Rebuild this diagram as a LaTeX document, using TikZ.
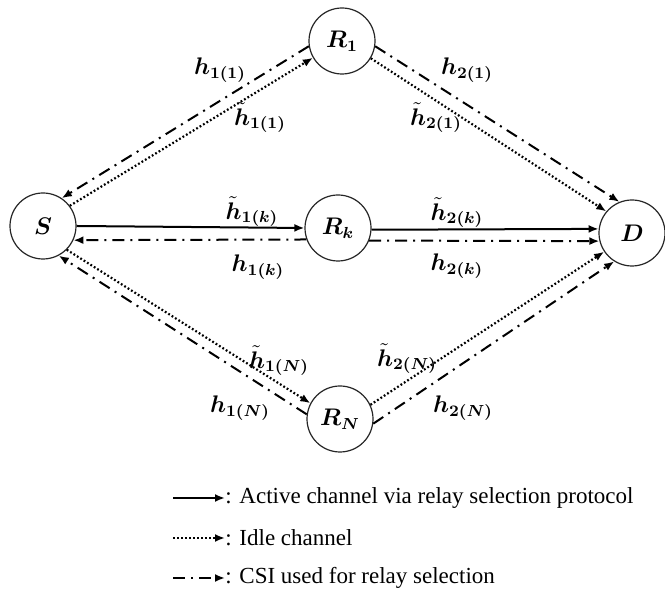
\documentclass[tikz,border=0pt]{standalone}
\usepackage{fontspec}
\setmainfont{Liberation Serif}
\usepackage{amsmath,bm}
\usetikzlibrary{arrows.meta}

\begin{document}
\begin{tikzpicture}[
    x=0.5pt, y=-0.5pt,
    relay/.style={
        circle, draw=black!85, line width=0.6pt,
        minimum size=33pt, inner sep=0pt, font=\large
    },
    lbl/.style={font=\large, inner sep=1pt},
    active/.style={-{Latex[length=5pt,width=4pt]}, line width=1pt},
    idle/.style={-{Latex[length=5pt,width=4pt]}, line width=1.1pt,
        dash pattern=on 0.9pt off 1.1pt},
    csi/.style={-{Latex[length=5pt,width=4pt]}, line width=1pt,
        dash pattern=on 6pt off 3pt on 1pt off 3pt},
    legtext/.style={anchor=west, inner sep=0pt,
        font=\fontsize{11.5}{14}\selectfont}
]
\useasboundingbox (0,0) rectangle (665,597);

% source, relays, destination
\node[relay] (S) at (43,226) {$\bm{S}$};
\node[relay] (R1) at (342,41) {$\bm{R_1}$};
\node[relay] (Rk) at (338,228) {$\bm{R_k}$};
\node[relay] (RN) at (340,419) {$\bm{R_N}$};
\node[relay] (D) at (632,233) {$\bm{D}$};

% first hop
\draw[idle] (S.37) -- (R1.210);
\draw[csi] (R1.189) -- (S.56);
\draw[active] (S.0) -- (Rk.180);
\draw[csi] (Rk.200) -- (S.-25);
\draw[idle] (S.-45) -- (RN.152);
\draw[csi] (RN.172) -- (S.-62);

% second hop
\draw[idle] (R1.-31) -- (D.140);
\draw[csi] (R1.-9) -- (D.112);
\draw[active] (Rk.-3) -- (D.173);
\draw[csi] (Rk.-22) -- (D.194);
\draw[idle] (RN.25) -- (D.214);
\draw[csi] (RN.-8) -- (D.238);

% channel labels
\node[lbl] (h11) at (220,70) {$\bm{h}_{\bm{1(1)}}$};
\node[lbl] (t11) at (260,118) {$\tilde{\bm{h}}_{\bm{1(1)}}$};
\node[lbl] (t1k) at (252,212) {$\tilde{\bm{h}}_{\bm{1(k)}}$};
\node[lbl] (h1k) at (258,267) {$\bm{h}_{\bm{1(k)}}$};
\node[lbl] (t1N) at (279,361) {$\tilde{\bm{h}}_{\bm{1(N)}}$};
\node[lbl] (h1N) at (240,408) {$\bm{h}_{\bm{1(N)}}$};
\node[lbl] (h21) at (467,70) {$\bm{h}_{\bm{2(1)}}$};
\node[lbl] (t21) at (436,118) {$\tilde{\bm{h}}_{\bm{2(1)}}$};
\node[lbl] (t2k) at (457,213) {$\tilde{\bm{h}}_{\bm{2(k)}}$};
\node[lbl] (h2k) at (457,266) {$\bm{h}_{\bm{2(k)}}$};
\node[lbl] (t2N) at (407,359) {$\tilde{\bm{h}}_{\bm{2(N)}}$};
\node[lbl] (h2N) at (463,408) {$\bm{h}_{\bm{2(N)}}$};

% legend
\node[legtext] (legA) at (225,498) {: Active channel via relay selection protocol};
\node[legtext] (legI) at (225,538) {: Idle channel};
\node[legtext] (legC) at (225,578) {: CSI used for relay selection};
\coordinate (keyA) at (173,498);
\coordinate (keyI) at (173,538);
\coordinate (keyC) at (173,578);
\draw[active] (keyA) -- (legA.west);
\draw[idle] (keyI) -- (legI.west);
\draw[csi] (keyC) -- (legC.west);
\end{tikzpicture}
\end{document}
